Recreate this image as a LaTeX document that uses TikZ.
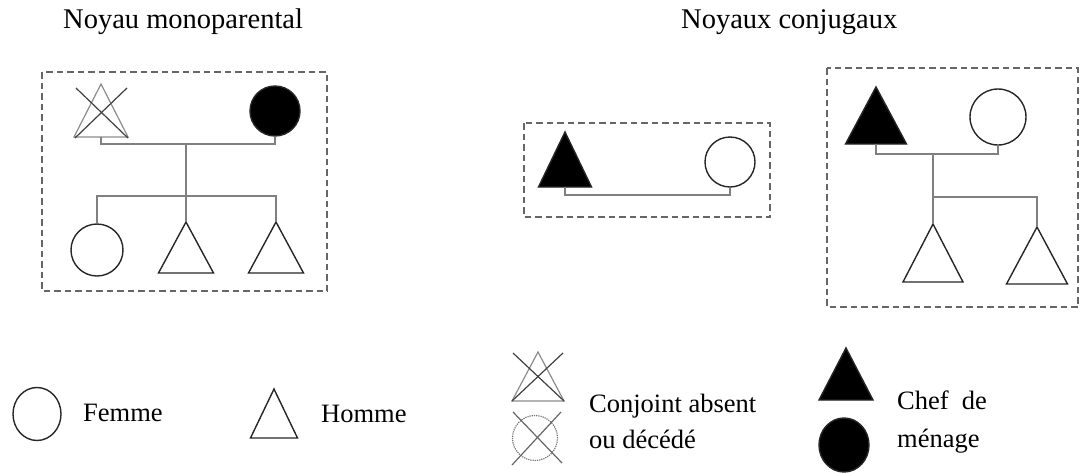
\documentclass[tikz,border=0pt]{standalone}
\usepackage{fontspec}
\setmainfont{Liberation Serif}
\usetikzlibrary{shapes.geometric}
\begin{document}
\begin{tikzpicture}[x=1pt,y=-1pt,
  groupbox/.style={draw=black!60, line width=2.3pt, dash pattern=on 6.5pt off 4pt},
  shapeline/.style={draw=black!85, line width=1.4pt},
  link/.style={draw=black!50, line width=1.4pt},
  ghost/.style={draw=black!45, line width=1.2pt},
  crossline/.style={draw=black!75, line width=1.2pt},
  fem/.style={circle, shapeline, inner sep=0pt},
  femleg/.style={ellipse, shapeline, inner sep=0pt},
  lab/.style={anchor=base west, inner sep=0pt, font=\fontsize{26.5}{30}\selectfont},
  title/.style={anchor=base west, inner sep=0pt, font=\fontsize{28.5}{32}\selectfont},
  pics/tri/.style n args={2}{code={
    \draw[pic actions] (0,0) coordinate (-top) -- (#1,#2) -- (-#1,#2) -- cycle;
    \coordinate (-bot) at (0,#2);}}
]
\useasboundingbox (0,0) rectangle (1080,472);

% titles
\node[title] (t1) at (63,28) {Noyau monoparental};
\node[title] (t2) at (681,28) {Noyaux conjugaux};

% ---------- Noyau monoparental ----------
\draw[groupbox] (42,72) rectangle (327,291);
\pic[ghost] (a) at (101,84) {tri={27}{53}};
\draw[crossline] (76,88) -- (128,138);
\draw[crossline] (127,88) -- (75,138);
\node[fem, fill=black, minimum size=50] (b) at (275,111) {};
\coordinate (m1) at (186,144);
\coordinate (s1) at (186,196);
\draw[link] (a-bot) -- ++(0,7) -| (b.south);
\node[fem, minimum size=52] (c1) at (97,250) {};
\pic[shapeline] (c2) at (186,222) {tri={27.5}{51}};
\pic[shapeline] (c3) at (276,222) {tri={27.5}{51}};
\draw[link] (m1) -- (c2-top);
\draw[link] (c1.north) |- (s1) -| (c3-top);

% ---------- Noyaux conjugaux : small ----------
\draw[groupbox] (524,123) rectangle (770,217);
\pic[shapeline, fill=black] (d) at (565,132) {tri={26.5}{55}};
\node[fem, minimum size=50] (e) at (730,162) {};
\draw[link] (d-bot) -- ++(0,8) -| (e.south);

% ---------- Noyaux conjugaux : large ----------
\draw[groupbox] (827,68) rectangle (1078,307);
\pic[shapeline, fill=black] (g) at (876,87) {tri={30.5}{57}};
\node[fem, minimum size=56] (h) at (998,117) {};
\coordinate (m2) at (933,154);
\coordinate (s2) at (933,197);
\draw[link] (g-bot) -- ++(0,10) -| (h.south);
\pic[shapeline] (k1) at (933,224) {tri={30}{58}};
\pic[shapeline] (k2) at (1037,227) {tri={30.5}{57}};
\draw[link] (m2) -- (k1-top);
\draw[link] (s2) -| (k2-top);

% ---------- legend ----------
\node[femleg, minimum width=48, minimum height=53] (lf) at (37,414) {};
\node[lab] (lft) at (83,421) {Femme};
\pic[shapeline] (lh) at (274,389) {tri={23.5}{49}};
\node[lab] (lht) at (321,422) {Homme};

\pic[ghost] (lx) at (538,352) {tri={26}{49}};
\draw[crossline] (513,353) -- (564,401);
\draw[crossline] (563,353) -- (512,401);
\node[circle, draw=black!55, densely dotted, line width=1.2pt, minimum size=45, inner sep=0pt] (lo) at (535,438) {};
\draw[ghost, draw=black!60] (513,412) -- (562,463);
\draw[ghost, draw=black!60] (561,412) -- (512,465);
\node[lab] (lxt1) at (589,412) {Conjoint absent};
\node[lab] (lxt2) at (589,448) {ou décédé};

\pic[shapeline, fill=black] (lc) at (846,348) {tri={27}{52}};
\node[femleg, fill=black, minimum width=50, minimum height=54] (lcf) at (844,445) {};
\node[lab] (lct1) at (897,409) {Chef\ \ de};
\node[lab] (lct2) at (897,447) {ménage};
\end{tikzpicture}
\end{document}
